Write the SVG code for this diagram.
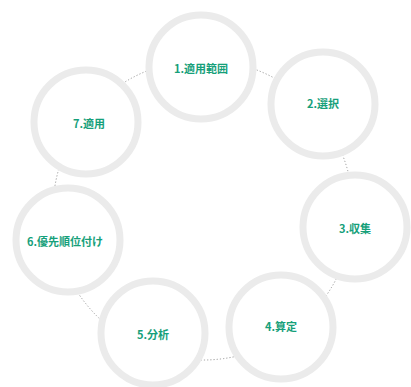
<svg xmlns="http://www.w3.org/2000/svg" width="411" height="387" viewBox="0 0 411 387">
<style>
.ring{fill:#ffffff;stroke:#ebebeb;stroke-width:7}
.lbl{font-family:"Noto Sans CJK JP","Noto Sans",sans-serif;font-size:11px;font-weight:bold;fill:#16a07a;text-anchor:middle;dominant-baseline:central}
.con{fill:none;stroke:#9a9a9a;stroke-width:1;stroke-dasharray:1.2 2}
</style>
<rect width="411" height="387" fill="#ffffff"/>
<g id="connectors">
<path class="con" d="M104.6 96.8 A150 150 0 0 1 174.4 62.8"/>
<path class="con" d="M229 62.3 A150 150 0 0 1 299.4 95.1"/>
<path class="con" d="M329.4 129.2 A150 150 0 0 1 352.8 203.2"/>
<path class="con" d="M347.9 248.8 A150 150 0 0 1 309.1 316.1"/>
<path class="con" d="M258.2 349.5 A150 150 0 0 1 181.1 358.4"/>
<path class="con" d="M119.1 334.4 A150 150 0 0 1 68.2 275.8"/>
<path class="con" d="M53.2 217.8 A150 150 0 0 1 69.4 141.9"/>
</g>
<g id="n1"><circle class="ring" cx="201" cy="67" r="52"/><text class="lbl" x="201" y="68">1.適用範囲</text></g>
<g id="n2"><circle class="ring" cx="323" cy="104" r="52"/><text class="lbl" x="323" y="103">2.選択</text></g>
<g id="n3"><circle class="ring" cx="355" cy="227" r="52"/><text class="lbl" x="355" y="228">3.収集</text></g>
<g id="n4"><circle class="ring" cx="281" cy="327" r="52"/><text class="lbl" x="281" y="326">4.算定</text></g>
<g id="n5"><circle class="ring" cx="153" cy="333" r="52"/><text class="lbl" x="153" y="334">5.分析</text></g>
<g id="n6"><circle class="ring" cx="68" cy="240" r="52"/><text class="lbl" x="65" y="241">6.優先順位付け</text></g>
<g id="n7"><circle class="ring" cx="86" cy="122" r="52"/><text class="lbl" x="89" y="123">7.適用</text></g>
</svg>
